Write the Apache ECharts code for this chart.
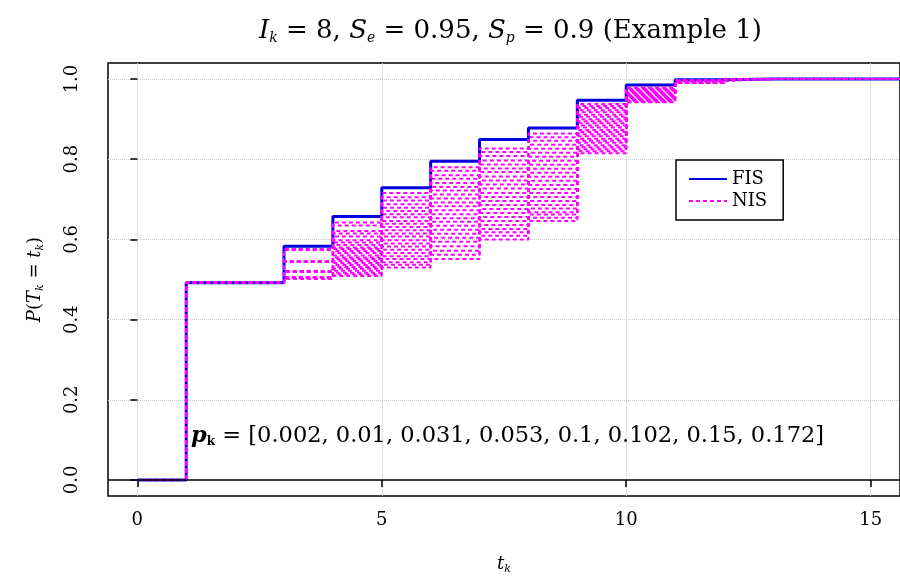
<!DOCTYPE html>
<html>
<head>
<meta charset="utf-8">
<title>Ik = 8 example</title>
<script src="https://cdn.jsdelivr.net/npm/echarts@6/dist/echarts.min.js"></script>
<style>
  html, body { margin: 0; padding: 0; background: #fff; }
  #main { width: 900px; height: 580px; }
</style>
</head>
<body>
<div id="main"></div>
<script>
// step positions t_k
var steps = [0, 1, 2, 3, 4, 5, 6, 7, 8, 9, 10, 11, 12, 13, 14, 15, 16]
// FIS cumulative probabilities at each step
var fis = [0, 0.492, 0.492, 0.583, 0.657, 0.729, 0.795, 0.849, 0.878, 0.947, 0.985, 0.998, 1, 1, 1, 1, 1]
// NIS curves: levels read per step (curve 0 = highest ... curve 23 = lowest)
var nis3 = [0.575, 0.575, 0.575, 0.575, 0.575, 0.545, 0.545, 0.545, 0.545, 0.545, 0.545, 0.52, 0.52, 0.52, 0.52, 0.52, 0.52, 0.505, 0.505, 0.505, 0.505, 0.505, 0.502, 0.502]
var nis4 = [0.642, 0.635, 0.621, 0.615, 0.607, 0.598, 0.592, 0.586, 0.58, 0.576, 0.571, 0.566, 0.56, 0.555, 0.551, 0.546, 0.541, 0.536, 0.531, 0.527, 0.522, 0.517, 0.513, 0.509]
var nis5 = [0.716, 0.705, 0.697, 0.688, 0.679, 0.671, 0.663, 0.655, 0.646, 0.639, 0.631, 0.623, 0.615, 0.607, 0.598, 0.59, 0.582, 0.574, 0.566, 0.558, 0.551, 0.543, 0.537, 0.53]
var nis6 = [0.78, 0.771, 0.76, 0.751, 0.741, 0.731, 0.722, 0.712, 0.702, 0.692, 0.683, 0.673, 0.663, 0.653, 0.644, 0.634, 0.624, 0.614, 0.604, 0.594, 0.583, 0.572, 0.562, 0.551]
var nis7 = [0.827, 0.818, 0.808, 0.797, 0.787, 0.777, 0.768, 0.757, 0.747, 0.737, 0.727, 0.716, 0.706, 0.696, 0.686, 0.676, 0.666, 0.656, 0.646, 0.636, 0.626, 0.618, 0.609, 0.6]
var nis8 = [0.864, 0.855, 0.846, 0.836, 0.826, 0.816, 0.806, 0.796, 0.786, 0.776, 0.766, 0.756, 0.746, 0.736, 0.726, 0.716, 0.706, 0.696, 0.686, 0.677, 0.668, 0.662, 0.654, 0.646]
var nis9 = [0.938, 0.933, 0.928, 0.922, 0.917, 0.911, 0.906, 0.9, 0.895, 0.89, 0.884, 0.879, 0.873, 0.868, 0.862, 0.857, 0.851, 0.846, 0.841, 0.835, 0.83, 0.825, 0.82, 0.815]
var nis10 = [0.979, 0.977, 0.975, 0.974, 0.972, 0.97, 0.968, 0.966, 0.965, 0.963, 0.961, 0.96, 0.958, 0.956, 0.955, 0.953, 0.951, 0.95, 0.948, 0.947, 0.946, 0.945, 0.943, 0.942]
var nis11 = [0.997, 0.997, 0.996, 0.996, 0.996, 0.995, 0.995, 0.995, 0.994, 0.994, 0.994, 0.993, 0.993, 0.993, 0.993, 0.992, 0.992, 0.992, 0.991, 0.991, 0.991, 0.99, 0.99, 0.99]
// annotation values
var pk = [0.002, 0.01, 0.031, 0.053, 0.1, 0.102, 0.15, 0.172]
var xTicks = [0, 5, 10, 15]
var yTicks = [0, 0.2, 0.4, 0.6, 0.8, 1.0]

var serif = 'DejaVu Serif'
var nisByStep = { 3: nis3, 4: nis4, 5: nis5, 6: nis6, 7: nis7, 8: nis8, 9: nis9, 10: nis10, 11: nis11 }

function nisCurve(k) {
  return steps.map(function (t, i) {
    var v = nisByStep[t] ? nisByStep[t][k] : fis[i]
    return [t, v]
  })
}

var series = [
  {
    // horizontal reference line at 0
    name: 'zero',
    type: 'line',
    data: [],
    markLine: {
      silent: true,
      symbol: 'none',
      label: { show: false },
      lineStyle: { color: '#000', type: 'solid', width: 1.5 },
      data: [{ yAxis: 0 }],
    },
  },
  {
    name: 'FIS',
    type: 'line',
    step: 'end',
    symbol: 'none',
    data: steps.map(function (t, i) { return [t, fis[i]] }),
    lineStyle: { color: '#0000e0', width: 3 },
    itemStyle: { color: '#0000e0' },
    markPoint: {
      symbol: 'circle',
      symbolSize: 0,
      data: [{
        coord: [1.1, 0.11],
        label: {
          show: true,
          position: 'right',
          distance: 0,
          formatter: '{p|p}{s|k}{n| = [' + pk.join(', ') + ']}',
          rich: {
            p: { fontFamily: serif, fontSize: 22.5, fontStyle: 'italic', fontWeight: 'bold', color: '#000' },
            s: { fontFamily: serif, fontSize: 12, fontWeight: 'bold', color: '#000', padding: [12, 0, 0, 0] },
            n: { fontFamily: serif, fontSize: 22.5, color: '#000' },
          },
        },
      }],
    },
  },
]

for (var k = 0; k < nis3.length; k++) {
  series.push({
    name: 'NIS',
    type: 'line',
    step: 'end',
    symbol: 'none',
    data: nisCurve(k),
    lineStyle: { color: '#ff00ff', width: 2, type: [4, 3] },
    itemStyle: { color: '#ff00ff' },
  })
}

var myChart = echarts.init(document.getElementById('main'))
myChart.setOption({
  animation: false,
  title: {
    left: 254,
    top: 13,
    text: '{i|I}{s|k}{n| = 8, }{i|S}{s|e}{n| = 0.95, }{i|S}{s|p}{n| = 0.9 (Example 1)}',
    textStyle: {
      fontWeight: 'normal',
      rich: {
        i: { fontFamily: serif, fontSize: 26, fontStyle: 'italic', fontWeight: 'normal', color: '#000' },
        s: { fontFamily: serif, fontSize: 14, fontStyle: 'italic', fontWeight: 'normal', color: '#000', padding: [13, 0, 0, 0] },
        n: { fontFamily: serif, fontSize: 26, fontWeight: 'normal', color: '#000' },
      },
    },
  },
  legend: {
    left: 676,
    top: 160,
    orient: 'vertical',
    data: ['FIS', 'NIS'],
    itemWidth: 38,
    itemHeight: 2,
    itemGap: 4,
    itemStyle: { opacity: 0 },
    padding: [10, 16, 10, 12],
    borderColor: '#000',
    borderWidth: 1.5,
    textStyle: { fontFamily: serif, fontSize: 18, color: '#000' },
  },
  grid: {
    left: 108,
    top: 63,
    width: 792,
    height: 438,
    show: true,
    borderColor: '#000',
    borderWidth: 1.5,
    backgroundColor: 'transparent',
  },
  xAxis: {
    type: 'value',
    min: -0.6,
    max: 15.6,
    interval: 5,
    name: '{i|t}{s|k}',
    nameLocation: 'middle',
    nameGap: 58,
    nameTextStyle: {
      rich: {
        i: { fontFamily: serif, fontSize: 18, fontStyle: 'italic', color: '#000' },
        s: { fontFamily: serif, fontSize: 11, fontStyle: 'italic', color: '#000', padding: [10, 0, 0, 0] },
      },
    },
    axisLine: { show: false },
    axisTick: { show: true, customValues: xTicks, length: 7, lineStyle: { color: '#000', width: 1.5 } },
    axisLabel: { customValues: xTicks, fontFamily: serif, fontSize: 18, color: '#000', margin: 15 },
    splitLine: { show: true, lineStyle: { color: '#c8c8c8', type: 'dotted', width: 1 } },
  },
  yAxis: {
    type: 'value',
    min: -0.04,
    max: 1.04,
    interval: 0.2,
    name: '{i|P}{n|(}{i|T}{s|k}{n| = }{i|t}{s|k}{n|)}',
    nameLocation: 'middle',
    nameGap: 62,
    nameRotate: 90,
    nameTextStyle: {
      rich: {
        i: { fontFamily: serif, fontSize: 18, fontStyle: 'italic', color: '#000' },
        n: { fontFamily: serif, fontSize: 18, color: '#000' },
        s: { fontFamily: serif, fontSize: 11, fontStyle: 'italic', color: '#000', padding: [10, 0, 0, 0] },
      },
    },
    axisLine: { show: false },
    axisTick: { show: true, customValues: yTicks, length: 7, lineStyle: { color: '#000', width: 1.5 } },
    axisLabel: {
      customValues: yTicks,
      rotate: 90,
      fontFamily: serif,
      fontSize: 18,
      color: '#000',
      margin: 27,
      formatter: function (v) { return v.toFixed(1) },
    },
    splitLine: { show: true, lineStyle: { color: '#c8c8c8', type: 'dotted', width: 1 } },
  },
  series: series,
})
</script>
</body>
</html>
